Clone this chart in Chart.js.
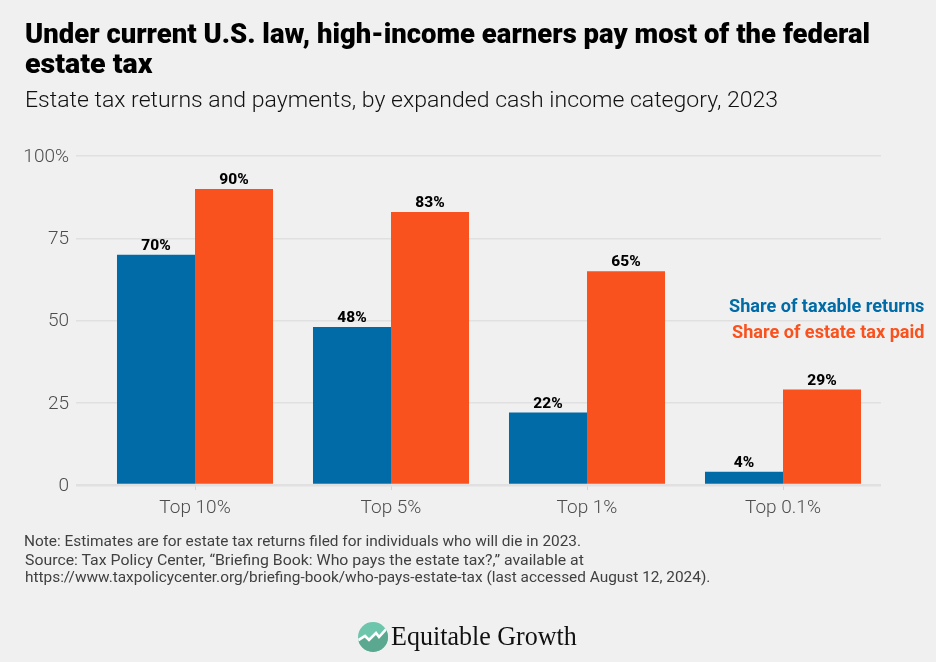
<!DOCTYPE html>
<html><head><meta charset="utf-8">
<script src="https://cdn.jsdelivr.net/npm/chart.js@4"></script>
<style>
html,body{margin:0;padding:0;background:#f0f0f0;width:936px;height:662px;overflow:hidden;}
#wrap{position:relative;width:936px;height:662px;}
canvas{position:absolute;left:0;top:0;}
.t{position:absolute;white-space:nowrap;transform-origin:left center;font-family:Roboto,sans-serif;line-height:1;}
#logo{position:absolute;left:357px;top:621px;}
</style></head><body>
<div id="wrap">
<canvas id="c" width="936" height="662"></canvas>
<div class="t" data-w="845" style="left:25px;top:21px;font-size:27px;font-weight:900;color:#000">Under current U.S. law, high-income earners pay most of the federal</div>
<div class="t" data-w="127" style="left:25px;top:51px;font-size:27px;font-weight:900;color:#000">estate tax</div>
<div class="t" data-w="753" style="left:25px;top:89px;font-size:22px;font-weight:300;color:#111">Estate tax returns and payments, by expanded cash income category, 2023</div>
<div class="t" id="s0" data-w="195" style="left:729px;top:297px;font-size:18px;font-weight:700;color:#006ba6"></div>
<div class="t" id="s1" data-w="192" style="left:732px;top:323px;font-size:18px;font-weight:700;color:#f9521e"></div>
<div class="t" data-w="557" style="left:24px;top:534px;font-size:14px;color:#404040">Note: Estimates are for estate tax returns filed for individuals who will die in 2023.</div>
<div class="t" data-w="559" style="left:25px;top:553px;font-size:14px;color:#404040">Source: Tax Policy Center, “Briefing Book: Who pays the estate tax?,” available at</div>
<div class="t" data-w="685" style="left:25px;top:570px;font-size:14px;color:#404040">https://www.taxpolicycenter.org/briefing-book/who-pays-estate-tax (last accessed August 12, 2024).</div>
<svg id="logo" width="32" height="32" viewBox="0 0 32 32">
<defs><clipPath id="cc"><circle cx="16" cy="16" r="15"/></clipPath></defs>
<circle cx="16" cy="16" r="15" fill="#6dc5ab"/>
<path clip-path="url(#cc)" d="M0 19 L8 15 L12 19 L19 12 L22 16 L31 6 L32 32 L0 32Z" fill="#5aa88f"/>
<path clip-path="url(#cc)" d="M0 20 L8 15 L12 19 L19 12 L22 16 L31 6" fill="none" stroke="#fff" stroke-width="2.6"/>
</svg>
<div class="t" data-w="186" style="left:391px;top:622px;font-size:28px;font-family:'Liberation Serif',serif;color:#111">Equitable Growth</div>
</div>
<script>
const categories = ["Top 10%", "Top 5%", "Top 1%", "Top 0.1%"];
const seriesNames = ["Share of taxable returns", "Share of estate tax paid"];
const taxableReturns = [70, 48, 22, 4];
const estateTaxPaid = [90, 83, 65, 29];
const yTickValues = [0, 25, 50, 75, 100];
const yTickLabels = ["0", "25", "50", "75", "100%"];

document.getElementById('s0').textContent = seriesNames[0];
document.getElementById('s1').textContent = seriesNames[1];

const barLabels = {
  id: 'barLabels',
  afterDatasetsDraw(chart) {
    const ctx = chart.ctx;
    ctx.save();
    ctx.font = '800 15.5px Roboto, sans-serif';
    ctx.fillStyle = '#000';
    ctx.textAlign = 'center';
    ctx.textBaseline = 'alphabetic';
    chart.data.datasets.forEach((ds, i) => {
      chart.getDatasetMeta(i).data.forEach((el, j) => {
        ctx.fillText(ds.data[j] + '%', el.x, el.y - 5);
      });
    });
    ctx.restore();
  }
};

new Chart(document.getElementById('c'), {
  type: 'bar',
  data: {
    labels: categories,
    datasets: [
      { label: seriesNames[0], data: taxableReturns, backgroundColor: '#006ba6' },
      { label: seriesNames[1], data: estateTaxPaid, backgroundColor: '#f9521e' }
    ]
  },
  plugins: [barLabels],
  options: {
    responsive: false,
    animation: false,
    devicePixelRatio: 1,
    layout: { padding: { top: 156, right: 55, bottom: 0, left: 0 } },
    plugins: { legend: { display: false }, title: { display: false }, tooltip: { enabled: false } },
    datasets: { bar: { categoryPercentage: 0.796, barPercentage: 1 } },
    scales: {
      x: {
        afterFit(s) { s.height = 177; },
        border: { display: false },
        grid: { offset: false, drawOnChartArea: false, drawTicks: true, tickLength: 5, tickColor: '#d4d4d4', tickWidth: 1 },
        ticks: { color: '#4d4d4d', font: { family: 'Roboto, sans-serif', size: 19, weight: 300 }, padding: 7, maxRotation: 0 }
      },
      y: {
        min: 0, max: 100,
        afterFit(s) { s.width = 97; },
        afterBuildTicks(s) { s.ticks = yTickValues.map(v => ({ value: v })); },
        border: { display: false },
        grid: {
          color: '#e0e0e0',
          lineWidth: c => c.tick && c.tick.value === 0 ? 2.5 : 1.5,
          drawTicks: true, tickLength: 21, tickColor: '#e0e0e0',
          tickWidth: c => c.tick && c.tick.value === 0 ? 2.5 : 1.5
        },
        ticks: {
          color: '#4d4d4d', padding: 7, labelOffset: 1,
          font: { family: 'Roboto, sans-serif', size: 19, weight: 300 },
          callback: v => yTickLabels[yTickValues.indexOf(v)]
        }
      }
    }
  }
});

document.querySelectorAll('.t[data-w]').forEach(el => {
  el.style.transform = 'scaleX(' + (parseFloat(el.dataset.w) / el.offsetWidth) + ')';
});
</script>
</body></html>
